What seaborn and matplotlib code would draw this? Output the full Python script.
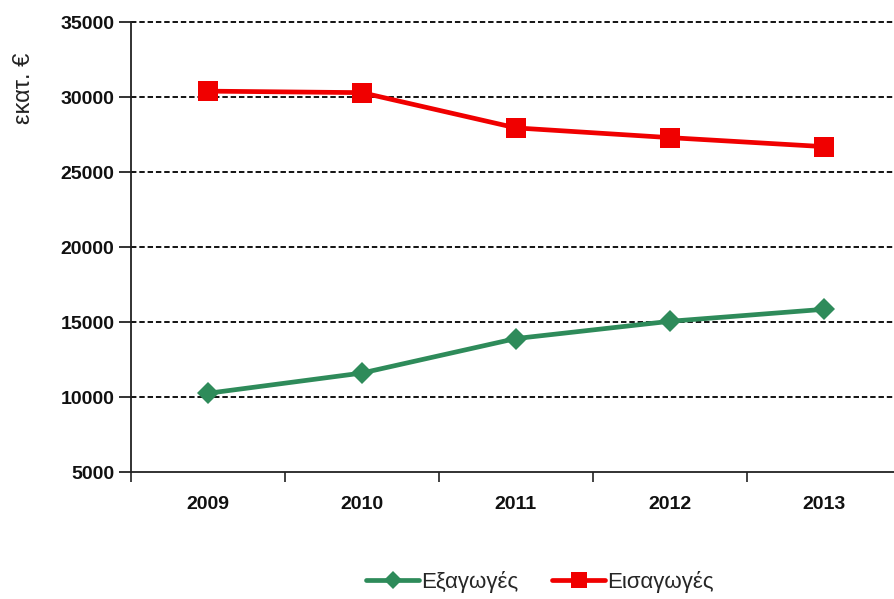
import matplotlib
matplotlib.use("Agg")
import matplotlib.pyplot as plt
from matplotlib.ticker import FixedLocator, NullFormatter
import seaborn as sns
import pandas as pd

years = ["2009", "2010", "2011", "2012", "2013"]
exports = [10250, 11600, 13900, 15050, 15850]
imports = [30400, 30300, 27950, 27300, 26700]
series_names = ["Εξαγωγές", "Εισαγωγές"]
y_ticks = [5000, 10000, 15000, 20000, 25000, 30000, 35000]

df = pd.DataFrame({
    "year": years * 2,
    "value": exports + imports,
    "series": [series_names[0]] * len(years) + [series_names[1]] * len(years),
})

sns.set_theme(style="white")
fam = ["Liberation Sans", "DejaVu Sans"]
plt.rcParams["font.family"] = fam

fig = plt.figure(figsize=(8.94, 5.99), dpi=100)
ax = fig.add_axes([0.1465, 0.212, 0.861, 0.751])

green = "#2e8b5a"
red = "#f00000"
palette = {series_names[0]: green, series_names[1]: red}
markers = {series_names[0]: "D", series_names[1]: "s"}
sns.lineplot(data=df, x="year", y="value", hue="series", style="series",
             palette=palette, markers=markers, dashes=False, linewidth=3.4,
             markersize=14, markeredgewidth=0, ax=ax, sort=False, zorder=3)

# diamonds are a bit smaller than the squares
for line in ax.get_lines():
    if line.get_marker() == "D":
        line.set_markersize(11)

ax.set_xlim(-0.5, 4.5)
ax.set_ylim(5000, 35000)
ax.set_yticks(y_ticks)
ax.set_yticklabels([str(v) for v in y_ticks], fontsize=14, fontweight="bold")
ax.set_xticks(range(len(years)))
ax.set_xticklabels(years, fontsize=14, fontweight="bold")
ax.xaxis.set_minor_locator(FixedLocator([i - 0.5 for i in range(len(years) + 1)]))
ax.xaxis.set_minor_formatter(NullFormatter())
ax.tick_params(axis="x", which="major", length=0, pad=17, colors="#111111")
ax.tick_params(axis="x", which="minor", bottom=True, length=7, width=1.2,
               direction="out", color="#222222")
ax.tick_params(axis="y", which="major", length=9, width=1.2, direction="out", pad=3,
               colors="#111111", left=True)

for v in y_ticks[1:]:
    ax.axhline(v, color="black", linestyle=(0, (3, 1.6)), linewidth=1.3,
               zorder=1, clip_on=False)

for side in ["top", "right"]:
    ax.spines[side].set_visible(False)
for side in ["left", "bottom"]:
    ax.spines[side].set_color("#222222")
    ax.spines[side].set_linewidth(1.3)

ax.set_xlabel("")
ax.set_ylabel("")
fig.text(0.027, 0.853, "εκατ. €", rotation=90, ha="center", va="center",
         fontsize=17, color="#222222")

handles, labels = ax.get_legend_handles_labels()
ax.legend(handles, labels, loc="center", bbox_to_anchor=(0.604, 0.028),
          bbox_transform=fig.transFigure, ncol=2, frameon=False,
          fontsize=16, handlelength=2.4, handletextpad=0.1, columnspacing=1.5,
          markerscale=0.8)

fig.savefig("out.png", dpi=100)
